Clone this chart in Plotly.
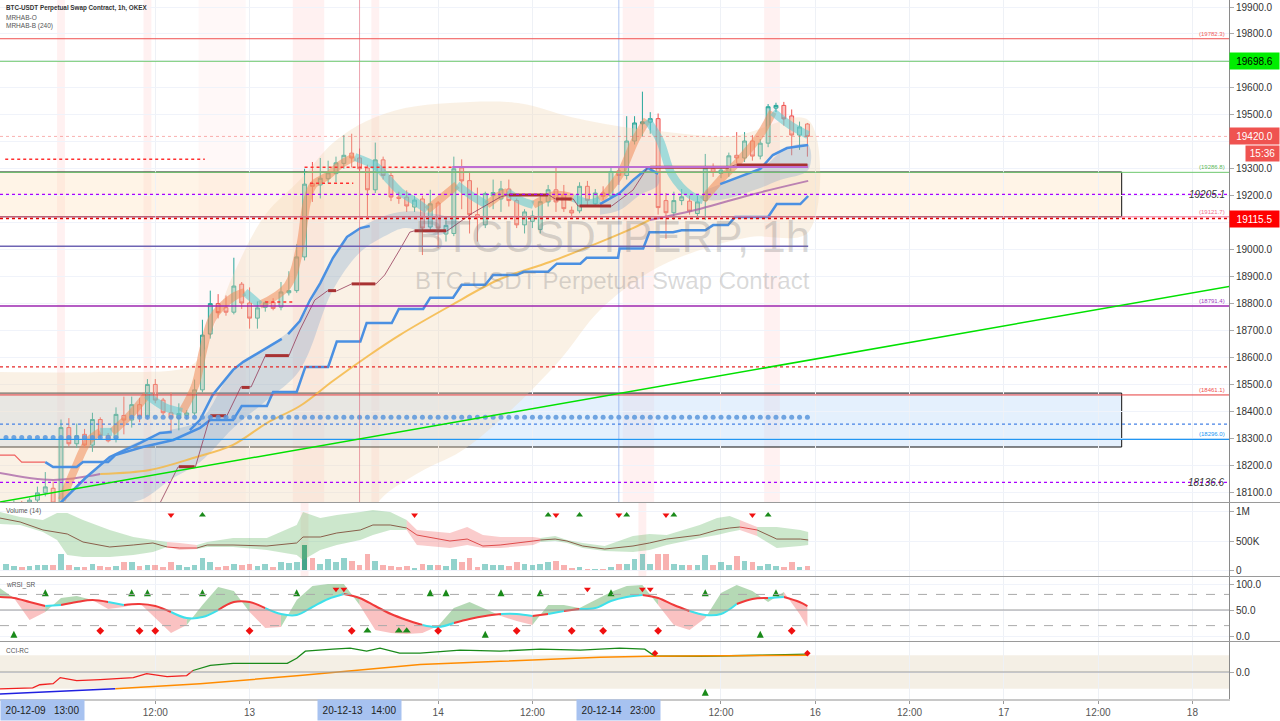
import plotly.graph_objects as go
from datetime import datetime, timedelta

BASE = datetime(2020, 12, 12)


def T(hs):
    return [None if h is None else BASE + timedelta(hours=h) for h in hs]

# ---------------- candles (hours from 2020-12-12 00:00) ----------------
hours = list(range(-7, 96))
opens = [18020, 18045, 18060, 18040, 18071, 18098, 18115,
         18060, 18340, 18280, 18315, 18275, 18370, 18311, 18300, 18385, 18368,
         18425, 18382, 18500, 18442, 18395, 18375, 18385, 18394, 18480, 18687,
         18800, 18785, 18768, 18872, 18802, 18746, 18786, 18805, 18787, 18840,
         18848, 18973, 19245, 19240, 19263, 19282, 19320, 19358, 19340, 19303,
         19222, 19333, 19275, 19195, 19195, 19158, 19188, 19084, 19173, 19058,
         19060, 19303, 19256, 19130, 19092, 19200, 19188, 19225, 19182, 19092,
         19105, 19075, 19177, 19222, 19205, 19146, 19144, 19235, 19170, 19210,
         19199, 19292, 19275, 19403, 19467, 19473, 19486, 19182, 19137, 19182,
         19180, 19134, 19182, 19300, 19283, 19288, 19350, 19340, 19403, 19347,
         19395, 19525, 19535, 19496, 19425, 19466]
highs = [18060, 18070, 18068, 18080, 18121, 18175, 18140,
         18370, 18375, 18355, 18335, 18395, 18378, 18320, 18415, 18455, 18455,
         18450, 18520, 18520, 18450, 18470, 18430, 18405, 18518, 18740, 18848,
         18835, 18830, 18970, 18880, 18860, 18808, 18810, 18820, 18880, 18920,
         19020, 19300, 19325, 19340, 19330, 19345, 19425, 19430, 19375, 19315,
         19397, 19345, 19290, 19215, 19220, 19200, 19200, 19222, 19180, 19125,
         19345, 19335, 19285, 19230, 19215, 19260, 19255, 19260, 19190, 19150,
         19145, 19210, 19240, 19303, 19240, 19160, 19250, 19255, 19225, 19235,
         19305, 19305, 19495, 19495, 19586, 19510, 19505, 19210, 19215, 19225,
         19200, 19200, 19355, 19320, 19310, 19360, 19436, 19436, 19425, 19410,
         19540, 19545, 19548, 19520, 19475, 19470]
lows = [18000, 18030, 18025, 18030, 18060, 18085, 18040,
        18050, 18270, 18265, 18265, 18250, 18300, 18285, 18285, 18315, 18340,
        18360, 18370, 18430, 18385, 18325, 18330, 18370, 18385, 18470, 18670,
        18745, 18755, 18760, 18780, 18707, 18707, 18770, 18775, 18775, 18830,
        18840, 18960, 19177, 19190, 19245, 19250, 19300, 19305, 19285, 19117,
        19210, 19260, 19180, 19170, 19140, 19140, 18980, 19070, 19005, 19030,
        19050, 19150, 19060, 19030, 19080, 19150, 19140, 19160, 19080, 19060,
        19080, 19060, 19160, 19140, 19140, 19120, 19135, 19160, 19160, 19185,
        19190, 19240, 19260, 19390, 19420, 19430, 19130, 19040, 19110, 19165,
        19130, 19115, 19110, 19270, 19265, 19270, 19320, 19325, 19330, 19335,
        19380, 19510, 19460, 19350, 19370, 19345]
closes = [18045, 18060, 18040, 18071, 18098, 18120, 18060,
          18340, 18280, 18310, 18275, 18370, 18310, 18291, 18389, 18368, 18425,
          18382, 18500, 18442, 18395, 18378, 18392, 18394, 18480, 18683, 18800,
          18766, 18768, 18865, 18802, 18746, 18784, 18803, 18782, 18843, 18848,
          18973, 19243, 19235, 19265, 19285, 19322, 19350, 19340, 19300, 19222,
          19333, 19275, 19195, 19190, 19162, 19184, 19080, 19170, 19080, 19090,
          19300, 19255, 19130, 19120, 19208, 19212, 19225, 19182, 19092, 19140,
          19125, 19178, 19222, 19177, 19152, 19136, 19235, 19183, 19210, 19198,
          19290, 19275, 19403, 19470, 19474, 19486, 19156, 19137, 19182, 19196,
          19143, 19177, 19303, 19287, 19295, 19348, 19340, 19403, 19347, 19395,
          19530, 19535, 19485, 19425, 19455, 19420]
volume_k = [109, 73, 60, 73, 79, 79, 79, 284, 91, 60,
            60, 109, 73, 48, 73, 133, 133, 73, 91, 91,
            48, 133, 79, 60, 79, 212, 133, 60, 73, 109,
            79, 109, 73, 109, 48, 133, 121, 133, 424, 200,
            109, 182, 133, 200, 163, 91, 272, 163, 91, 73,
            48, 73, 30, 109, 79, 91, 73, 182, 133, 200,
            60, 109, 79, 91, 73, 133, 109, 91, 109, 133,
            163, 91, 30, 60, 18, 18, 18, 48, 109, 109,
            182, 272, 109, 284, 272, 109, 79, 79, 91, 254,
            91, 133, 79, 242, 151, 133, 73, 109, 73, 48,
            133, 60, 73]

# ---------------- overlay indicators (main pane) ----------------
bb_up_h = [-8.0, 5.0, 15.8, 17.7, 21.9, 26.0, 30.4, 34.6, 38.9, 43.8, 49.5, 56.8, 60.1, 64.4, 70.8, 74.9, 85.5, 95.1]
bb_up_p = [18546, 18546, 18561, 18602, 18906, 19129, 19258, 19396, 19477, 19525, 19544, 19548, 19533, 19496, 19459, 19444, 19422, 19481]
bb_lo_h = [-8.0, 38.1, 40.6, 45.7, 50.8, 55.9, 63.5, 68.6, 74.9, 81.3, 87.7, 95.1]
bb_lo_p = [17849, 17923, 18071, 18175, 18250, 18368, 18591, 18776, 18917, 18999, 19047, 19065]

band1_up_h = [-0.1, 6.2, 12.6, 17.7, 21.9, 25.7, 30.4, 34.6, 38.1, 43.1, 48.2, 50.8]
band1_up_p = [18060, 18231, 18320, 18368, 18554, 18628, 18735, 18969, 19080, 19140, 19129, 19103]
band1_lo_h = [6.2, 10.1, 13.9, 17.7, 21.9, 26.2, 30.4, 34.6, 38.1, 41.5, 43.8, 48.2, 50.8]
band1_lo_p = [18060, 18071, 18146, 18212, 18338, 18442, 18554, 18850, 18991, 19054, 19080, 19054, 19103]
band2_up_h = [68.6, 71.1, 74.7, 76.0]
band2_up_p = [19169, 19210, 19303, 19281]
band2_lo_h = [68.6, 71.1, 73.7, 76.0]
band2_lo_p = [19129, 19147, 19203, 19240]
band3_up_h = [82.0, 83.9, 89.0, 92.4, 95.1]
band3_up_p = [19221, 19243, 19299, 19377, 19388]
band3_lo_h = [82.0, 83.9, 89.0, 91.5, 95.1]
band3_lo_p = [19184, 19184, 19229, 19258, 19295]

blue_h = [-0.1, 3.1, 6.2, 10.1, 12.6, 14.1, None, 16.4, 17.7, 19.3, 21.9, 23.2, 25.7, 28.1, None,
          28.9, 30.4, 31.7, 33.0, 34.6, 36.4, 38.1, 39.3, None, 68.6, 71.1, 72.8, 74.7, 76.0, None,
          83.9, 89.0, 90.6, 92.4, 95.1]
blue_p = [18060, 18153, 18231, 18283, 18320, 18324, None, 18331, 18369, 18461, 18554, 18584, 18628, 18669, None,
          18687, 18735, 18813, 18876, 18969, 19047, 19080, 19088, None, 19169, 19210, 19258, 19303, 19281, None,
          19243, 19299, 19351, 19377, 19388]

ma_h = [-7.8, -1.0, 5.0, 11.3, 16.8, 21.9, 26.2, 30.4, 34.6, 38.9, 43.1, 49.5, 55.9, 62.2, 68.6, 72.8, 74.9, 81.3, 87.7, 95.1]
ma_p = [18172, 18146, 18168, 18183, 18227, 18276, 18357, 18420, 18513, 18602, 18683, 18791, 18891, 18954, 19028, 19080, 19110, 19151, 19203, 19255]

rib_or_h = [0.1, 1.8, 3.4, 5.0, None, 6.5, 8.8, 10.9, None, 15.4, 17.1, 18.1, 19.3, 21.9, 23.4, None,
            25.3, 28.8, 30.4, 31.3, 32.1, 33.9, 35.5, 37.4, None, 46.6, 48.9, 50.4, None, 54.2, 55.9, 56.8, None,
            60.1, 62.9, 65.2, None, 68.6, 71.1, 73.1, 74.6, None, 81.7, 83.9, 86.4, 88.96, 90.6]
rib_or_p = [18071, 18190, 18287, 18324, None, 18324, 18387, 18461, None, 18398, 18498, 18628, 18747, 18824, 18843, None,
            18795, 18865, 19006, 19177, 19240, 19273, 19314, 19344, None, 19147, 19203, 19240, None, 19166, 19203, 19214, None,
            19166, 19203, 19192, None, 19184, 19277, 19407, 19481, None, 19184, 19258, 19333, 19425, 19511]
rib_cy_h = [5.0, 6.5, None, 10.9, 13.2, 15.4, None, 23.4, 25.3, None, 37.4, 40.2, 41.5, 43.2, 44.8, 46.6, None,
            50.4, 52.1, 54.2, None, 56.8, 58.4, 60.1, None, 65.2, 67.3, 68.6, None, 74.6, 76.2, 77.8, 80.1, 81.7, None,
            90.6, 92.8, 95.1]
rib_cy_p = [18324, 18324, None, 18461, 18416, 18398, None, 18843, 18795, None, 19344, 19307, 19266, 19214, 19184, 19147, None,
            19240, 19203, 19166, None, 19214, 19184, 19166, None, 19192, 19173, 19184, None, 19481, 19407, 19277, 19203, 19184, None,
            19511, 19462, 19425]

step_red_h = [-7.8, -5.9, -5.0, -2.0]
step_red_p = [18238, 18238, 18212, 18212]
step_h = [-2.0, -1.0, 2.0, 2.8, 6.0, 6.9, 10.4, 14.3, 17.7, 19.0, 21.9, 23.0, 26.2, 27.0, 30.0, 31.1, 34.0, 35.1, 38.1, 38.9,
          42.1, 43.0, 46.1, 47.0, 49.9, 51.0, 54.0, 55.0, 58.0, 58.9, 62.0, 63.1, 66.1, 66.9, 70.9, 71.1, 74.1, 74.9, 77.9, 79.0,
          82.0, 83.0, 84.9, 85.8, 90.0, 91.1, 94.1, 95.1]
step_p = [18212, 18194, 18194, 18212, 18212, 18238, 18268, 18294, 18339, 18368, 18368, 18420, 18420, 18472, 18472, 18565, 18565, 18659, 18659, 18728,
          18728, 18780, 18780, 18822, 18822, 18870, 18870, 18906, 18906, 18918, 18918, 18948, 18948, 18970, 18970, 19004, 19004, 19065, 19065, 19072,
          19072, 19091, 19091, 19121, 19121, 19169, 19169, 19199]

conn_h = [12.6, 14.9, 17.1, 19.0, 21.1, 22.9, 24.2, 26.0, 29.0, 30.4, 32.3, 33.9, 35.1, 37.0, 40.1, 41.2, 43.1, 44.4, 44.9, 49.1,
          52.4, 54.2, 55.9, 56.8, 62.1, 62.9, 65.2, 65.8, 70.1, 72.8, 74.7, 85.1, 85.8, 95.1]
conn_p = [18060, 18194, 18194, 18383, 18383, 18491, 18491, 18606, 18606, 18702, 18813, 18847, 18847, 18873, 18873, 18906, 18999, 19065, 19069, 19069,
          19136, 19166, 19195, 19203, 19203, 19188, 19188, 19162, 19162, 19221, 19307, 19307, 19314, 19314]
mrb_h = [15, 17, None, 19, 21, None, 23, 24, None, 26, 29, None, 34, 35, None, 37, 40, None, 45, 49, None,
         57, 62, None, 63, 65, None, 66, 70, None, 75, 85, None, 86, 95]
mrb_p = [18195, 18195, None, 18384, 18384, None, 18489, 18489, None, 18607, 18607, None, 18848, 18848, None, 18873, 18873, None,
         19070, 19070, None, 19203, 19203, None, 19188, 19188, None, 19162, 19162, None, 19306, 19306, None, 19314, 19314]
mro_h = [-7.1, 18.3, None, 26.0, 29.8, None, 31.0, 50.8, None, 31.7, 37.2]
mro_p = [19335, 19335, None, 18806, 18806, None, 19306, 19306, None, 19246, 19246]

dots1_h = list(range(-7, 8))
dots1_level = 18303
dots2_h = list(range(9, 96))
dots2_level = 18378

# levels
full_levels = [19782.3, 19698.6, 19420.0, 19286.8, 19205.1, 19121.7, 19115.5, 18791.4, 18565.0, 18461.1, 18353.0, 18296.0, 18136.6]
slate_level, slate_h = 19013, (-8, 95.1)
violet_level, violet_h = 19307, (49.8, 95.1)
box_top = (19288, 19122)
box_bot = (18468, 18268)
box_h = (-10, 135)
trend_h = (-8, 149)
trend_p = (18063, 18865)
pink_bands = [(-0.5, 0.5), (10.5, 11.5), (29.5, 33.5), (39.5, 40.5), (71.5, 75.5), (89.5, 91.5)]
pink_light = [(17.5, 23.5)]
vol_pink = [(30.5, 31.5), (73.5, 74.5)]
vlines_h = [38, 71]

# ---------------- volume ribbon ----------------
vb_h = [-7.8, -5.2, -2.3, -0.5, 0.8, 2.8, 6.2, 9.2, 11.7, 13.5, 15.1, 17.3, 18.6, 21.9, 26.2, 30.0, 30.8, 33.0, 35.1, 38.1,
        39.7, 41.9, 44.0, 45.3, 49.5, 51.7, 53.7, 55.9, 60.1, 61.0, 62.9, 64.4, 66.4, 69.2, 72.8, 74.9, 77.1, 81.3, 83.5, 85.1,
        86.4, 88.6, 91.1, 94.1, 95.1]
vb_line = [896, 828, 690, 655, 621, 483, 397, 431, 466, 397, 379, 379, 431, 431, 414, 466, 569, 569, 638, 690,
           776, 776, 724, 603, 500, 534, 414, 431, 500, 517, 534, 500, 414, 362, 414, 466, 534, 603, 690, 724,
           741, 690, 534, 534, 517]
vb_up = [1000, 914, 862, 983, 983, 862, 690, 569, 517, 483, 466, 431, 483, 552, 552, 776, 1000, 896, 948, 1000,
         1034, 1000, 862, 690, 638, 741, 603, 569, 569, 552, 586, 517, 466, 414, 586, 621, 603, 776, 896, 931,
         862, 741, 741, 690, 655]
vb_lo = [793, 776, 655, 517, 259, 224, 224, 259, 310, 397, 345, 362, 397, 397, 345, 259, 172, 345, 431, 517,
         603, 690, 690, 431, 379, 431, 379, 379, 431, 483, 500, 466, 379, 328, 310, 345, 431, 552, 603, 655,
         690, 586, 379, 414, 431]
vb_keys = "ggggggggg" + "rr" + "ggggggggggg" + "rrrrrrr" + "ggggggggggg" + "r" + "ggg"
vol_dn_h = [14, 45, 63, 71, 77, 88]
vol_up_h = [18, 62, 66, 72, 78, 90]
vol_mark_level = 950e3

# ---------------- RSI ----------------
rsi_h = [-8, -6, -4, -2, 0, 2, 4, 6, 8, 10, 12, 14, 16, 18, 20, 22, 24, 26, 28, 30, 32, 34, 36, 38, 40, 42, 44, 46,
         48, 50, 52, 54, 56, 58, 60, 62, 64, 66, 68, 70, 72, 74, 76, 78, 80, 82, 84, 86, 88, 90, 92, 94, 95]
rsi_fast = [94.2, 73.1, 30.8, 46.2, 73.1, 76.9, 69.2, 51.9, 55.8, 63.5, 34.6, 5.8, 21.2, 59.6, 94.2, 86.5, 46.2, 15.4,
            17.3, 69.2, 96.2, 100, 100, 59.6, 11.5, 5.8, 3.8, 5.8, 19.2, 53.8, 65.4, 51.9, 38.5, 28.8, 21.2, 59.6, 59.6,
            53.8, 69.2, 84.6, 96.2, 98.1, 59.6, 21.2, 11.5, 34.6, 82.7, 98.1, 86.5, 65.4, 84.6, 42.3, 17.3]
rsi_slow = [75.0, 73.1, 65.4, 57.7, 59.6, 65.4, 69.2, 65.4, 59.6, 61.5, 57.7, 46.2, 34.6, 36.5, 50.0, 65.4, 65.4, 53.8,
            42.3, 40.4, 55.8, 71.2, 80.8, 73.1, 57.7, 42.3, 30.8, 21.2, 17.3, 25.0, 32.7, 38.5, 42.3, 42.3, 38.5, 42.3,
            48.1, 51.9, 53.8, 67.3, 75.0, 78.8, 73.1, 59.6, 48.1, 40.4, 42.3, 61.5, 71.2, 73.1, 75.0, 65.4, 57.7]
rsi_keys = "rrr" + "c" + "rrr" + "c" + "rrr" + "ccc" + "rrr" + "ccccc" + "rrrrr" + "cc" + "rrr" + "cc" + "r" + "c" + "r" + "cccc" + "rrr" + "ccc" + "rr" + "c" + "rr"
rsi_up_top_h = [-2, 9, 11, 18, 30, 47, 49, 56, 61, 70, 82, 91]
rsi_dn_top_h = [35, 36, 67, 74, 75]
rsi_up_bot_h = [-6, 54, 89]
rsi_tri_bot_h = [39, 43, 44]
rsi_dn_bot_h = [5, 10, 12, 24, 37, 48, 58, 65, 69, 76, 93]

# ---------------- CCI ----------------
cci_fast_h = [-7.8, -3.6, -2.7, -1.0, -0.1, 2.0, 5.0, 9.2, 10.9, 13.5, 16.0, 16.8, 19.0, 21.9, 26.2, 28.8, 30.0, 31.1,
              34.6, 36.8, 38.9, 40.6, 43.1, 45.7, 50.8, 55.9, 61.0, 66.1, 71.1, 74.3, 75.6, 81.3, 89.0, 95.1]
cci_fast = [-100, -93.9, -75.8, -69.7, -33.3, -51.5, -45.5, -33.3, -9.1, -27.3, -21.2, 9.1, 39.4, 51.5, 51.5, 51.5, 81.8,
            124.2, 136.4, 142.4, 124.2, 142.4, 112.1, 112.1, 130.3, 124.2, 136.4, 130.3, 142.4, 136.4, 93.9, 93.9, 100, 106.1]
cci_slow_h = [-7.8, 6.9, 17.7, 30.4, 45.7, 55.9, 68.6, 74.9, 95.1]
cci_slow = [-130.3, -100, -69.7, -21.2, 45.5, 63.6, 87.9, 93.9, 100]
cci_dn_h, cci_dn_v = [75.6, 95], [112, 112]
cci_up_h, cci_up_v = [82], [-100]

xtick_hours = [12, 24, 48, 60, 84, 96, 108, 120, 132, 144]
xtick_text = ["12:00", "13", "14", "12:00", "12:00", "16", "12:00", "17", "12:00", "18"]
main_ticks = list(range(18100, 19901, 100))
covered_ticks = [19100, 19400, 19700]   # hidden behind the price flags

# ======================================================================
FONT = "Liberation Sans"
UP, DN = "#26a69a", "#ef5350"
PH = 699.0


def py(ypx):
    return (PH - ypx) / PH


def runs(hs, vals, keys, want):
    xs, ys = [], []
    n = len(hs) - 1
    i = 0
    while i < n:
        if keys[i] == want:
            j = i
            while j < n and keys[j] == want:
                j += 1
            xs += list(hs[i:j + 1]) + [None]
            ys += list(vals[i:j + 1]) + [None]
            i = j
        else:
            i += 1
    return xs, ys


def quads(hs, a, b, keys, want):
    xs, ys = [], []
    for i in range(len(hs) - 1):
        if keys[i] == want:
            xs += [hs[i], hs[i + 1], hs[i + 1], hs[i], hs[i], None]
            ys += [a[i], a[i + 1], b[i + 1], b[i], a[i], None]
    return xs, ys


fig = go.Figure()


def line(h, p, color, width, yax="y", xax="x", dash="solid", shape="linear", mode="lines", **kw):
    fig.add_trace(go.Scatter(x=T(h), y=p, mode=mode, xaxis=xax, yaxis=yax, hoverinfo="skip",
                             line=dict(color=color, width=width, dash=dash, shape=shape), showlegend=False, **kw))


def poly(uh, up, lh, lp, color, yax="y", shape="linear"):
    fig.add_trace(go.Scatter(x=T(list(uh) + list(lh)[::-1]), y=list(up) + list(lp)[::-1], mode="lines",
                             fill="toself", fillcolor=color, line=dict(width=0, shape=shape),
                             yaxis=yax, hoverinfo="skip", showlegend=False))


# main pane layers
poly(bb_up_h, bb_up_p, bb_lo_h, bb_lo_p, "rgba(240,212,175,0.33)", shape="spline")
poly(band1_up_h, band1_up_p, band1_lo_h, band1_lo_p, "rgba(70,130,200,0.22)", shape="spline")
poly(band2_up_h, band2_up_p, band2_lo_h, band2_lo_p, "rgba(70,130,200,0.22)", shape="spline")
poly(band3_up_h, band3_up_p, band3_lo_h, band3_lo_p, "rgba(70,130,200,0.22)", shape="spline")

ma_keys = "mm" + "y" * 14 + "mmm"
for k, c in (("m", "rgba(165,95,165,0.75)"), ("y", "rgba(245,185,70,0.85)")):
    xs, ys = runs(ma_h, ma_p, ma_keys, k)
    line(xs, ys, c, 2, shape="spline")

line(rib_or_h, rib_or_p, "rgba(240,140,90,0.55)", 8, shape="spline")
line(rib_cy_h, rib_cy_p, "rgba(90,200,210,0.55)", 8, shape="spline")
line(blue_h, blue_p, "#4a90e2", 2.5)
line(step_red_h, step_red_p, "#f06060", 1.2)
line(step_h, step_p, "#4a90e2", 2.5)
line(conn_h, conn_p, "rgba(150,60,90,0.8)", 1)
line(mrb_h, mrb_p, "#a83232", 3)
line(mro_h, mro_p, "#ff3030", 1.5, dash="dot")
fig.add_trace(go.Scatter(x=T(dots1_h), y=[dots1_level] * len(dots1_h), mode="markers", hoverinfo="skip",
                         marker=dict(size=5, color="rgba(90,150,220,0.85)"), showlegend=False))
fig.add_trace(go.Scatter(x=T(dots2_h), y=[dots2_level] * len(dots2_h), mode="markers", hoverinfo="skip",
                         marker=dict(size=5, color="rgba(90,150,220,0.85)"), showlegend=False))

fig.add_trace(go.Candlestick(
    x=T(hours), open=opens, high=highs, low=lows, close=closes, xaxis="x", yaxis="y",
    increasing=dict(line=dict(color=UP, width=1), fillcolor="rgba(38,166,154,0.35)"),
    decreasing=dict(line=dict(color=DN, width=1), fillcolor="rgba(239,83,80,0.35)"),
    whiskerwidth=0, hoverinfo="skip", showlegend=False))

# volume pane
vcols = []
for i, (o, c) in enumerate(zip(opens, closes)):
    col = "rgba(38,166,154,0.5)" if c >= o else "rgba(239,83,80,0.45)"
    if hours[i] == 31:
        col = "rgba(38,150,120,0.85)"
    vcols.append(col)
fig.add_trace(go.Bar(x=T(hours), y=[v * 1000 for v in volume_k], marker=dict(color=vcols, line=dict(width=0)),
                     width=0.72 * 3600 * 1000, xaxis="x2", yaxis="y2", hoverinfo="skip", showlegend=False))
vb_up_v = [v * 1000 for v in vb_up]
vb_lo_v = [v * 1000 for v in vb_lo]
for k, c in (("g", "rgba(110,185,110,0.35)"), ("r", "rgba(240,110,110,0.35)")):
    xs, ys = quads(vb_h, vb_up_v, vb_lo_v, vb_keys, k)
    fig.add_trace(go.Scatter(x=T(xs), y=ys, mode="lines", fill="toself", fillcolor=c, line=dict(width=0),
                             xaxis="x2", yaxis="y2", hoverinfo="skip", showlegend=False))
for k, c in (("g", "rgba(130,80,60,0.9)"), ("r", "rgba(220,60,60,0.9)")):
    xs, ys = runs(vb_h, [v * 1000 for v in vb_line], vb_keys, k)
    line(xs, ys, c, 1, yax="y2", xax="x2")
fig.add_trace(go.Scatter(x=T(vol_dn_h), y=[vol_mark_level] * len(vol_dn_h), mode="markers", xaxis="x2", yaxis="y2",
                         marker=dict(symbol="triangle-down", size=6, color="#f01010"), hoverinfo="skip", showlegend=False))
fig.add_trace(go.Scatter(x=T(vol_up_h), y=[vol_mark_level] * len(vol_up_h), mode="markers", xaxis="x2", yaxis="y2",
                         marker=dict(symbol="triangle-up", size=6, color="#1a8a1a"), hoverinfo="skip", showlegend=False))

# RSI pane
rsi_fill_keys = "".join("g" if rsi_fast[i] + rsi_fast[i + 1] >= rsi_slow[i] + rsi_slow[i + 1] else "p"
                        for i in range(len(rsi_h) - 1))
for k, c in (("g", "rgba(90,170,90,0.45)"), ("p", "rgba(245,120,120,0.45)")):
    xs, ys = quads(rsi_h, rsi_fast, rsi_slow, rsi_fill_keys, k)
    fig.add_trace(go.Scatter(x=T(xs), y=ys, mode="lines", fill="toself", fillcolor=c, line=dict(width=0),
                             xaxis="x3", yaxis="y3", hoverinfo="skip", showlegend=False))
for k, c in (("r", "#f03a3a"), ("c", "#3ee0ea")):
    xs, ys = runs(rsi_h, rsi_slow, rsi_keys, k)
    line(xs, ys, c, 2, yax="y3", xax="x3", shape="spline")


def marks(hs, v, sym, color, size, yax, xax):
    fig.add_trace(go.Scatter(x=T(hs), y=[v] * len(hs), mode="markers", xaxis=xax, yaxis=yax, hoverinfo="skip",
                             marker=dict(symbol=sym, size=size, color=color, line=dict(width=0)), showlegend=False))


marks(rsi_up_top_h, 90, "arrow-up", "#1a8a1a", 7, "y3", "x3")
marks(rsi_dn_top_h, 90, "triangle-down", "#f01010", 6, "y3", "x3")
marks(rsi_up_bot_h, 10, "arrow-up", "#1a8a1a", 7, "y3", "x3")
marks(rsi_tri_bot_h, 10, "triangle-up", "#1a8a1a", 7, "y3", "x3")
marks(rsi_dn_bot_h, 10, "diamond", "#f01010", 6, "y3", "x3")

# CCI pane
cci_keys = "r" * 11 + "g" * (len(cci_fast_h) - 12)
for k, c in (("r", "#f02020"), ("g", "#1a8a1a")):
    xs, ys = runs(cci_fast_h, cci_fast, cci_keys, k)
    line(xs, ys, c, 1.3, yax="y4", xax="x4")
cci_s_keys = "b" + "o" * (len(cci_slow_h) - 2)
for k, c in (("b", "#2020e0"), ("o", "#ff8c00")):
    xs, ys = runs(cci_slow_h, cci_slow, cci_s_keys, k)
    line(xs, ys, c, 1.5, yax="y4", xax="x4")
fig.add_trace(go.Scatter(x=T(cci_dn_h), y=cci_dn_v, mode="markers", xaxis="x4", yaxis="y4", hoverinfo="skip",
                         marker=dict(symbol="diamond", size=5, color="#f01010"), showlegend=False))
fig.add_trace(go.Scatter(x=T(cci_up_h), y=cci_up_v, mode="markers", xaxis="x4", yaxis="y4", hoverinfo="skip",
                         marker=dict(symbol="arrow-up", size=7, color="#1a8a1a"), showlegend=False))

# ---------------- shapes ----------------
shapes = []
for a, b in pink_bands:
    shapes.append(dict(type="rect", xref="x", yref="y domain", x0=T([a])[0], x1=T([b])[0], y0=0, y1=1,
                       fillcolor="rgba(255,120,120,0.10)", line=dict(width=0), layer="below"))
for a, b in pink_light:
    shapes.append(dict(type="rect", xref="x", yref="y domain", x0=T([a])[0], x1=T([b])[0], y0=0, y1=1,
                       fillcolor="rgba(255,120,120,0.05)", line=dict(width=0), layer="below"))
for a, b in vol_pink:
    shapes.append(dict(type="rect", xref="x2", yref="y2 domain", x0=T([a])[0], x1=T([b])[0], y0=0, y1=1,
                       fillcolor="rgba(255,120,120,0.12)", line=dict(width=0), layer="below"))
shapes.append(dict(type="rect", xref="x", yref="y", x0=T([box_h[0]])[0], x1=T([box_h[1]])[0], y0=box_top[1], y1=box_top[0],
                   fillcolor="rgba(255,215,170,0.28)", line=dict(color="#111", width=1), layer="below"))
shapes.append(dict(type="rect", xref="x", yref="y", x0=T([box_h[0]])[0], x1=T([box_h[1]])[0], y0=box_bot[1], y1=box_bot[0],
                   fillcolor="rgba(195,222,250,0.45)", line=dict(color="#111", width=1), layer="below"))
vcolors = ["rgba(220,90,110,0.55)", "rgba(110,150,235,0.55)"]
for h, c in zip(vlines_h, vcolors):
    shapes.append(dict(type="line", xref="x", yref="y domain", x0=T([h])[0], x1=T([h])[0], y0=0, y1=1,
                       line=dict(color=c, width=1)))
lvl_styles = [("rgb(240,80,80)", 1, "solid"), ("rgb(110,200,110)", 1, "solid"), ("rgba(239,83,80,0.45)", 1, "dot"),
              ("rgb(110,200,110)", 1, "solid"), ("rgb(170,0,255)", 1.2, "dot"), ("rgb(240,110,150)", 1, "solid"),
              ("rgb(230,0,0)", 1.3, "dot"), ("rgb(156,39,176)", 1.5, "solid"), ("rgb(230,40,40)", 1.2, "dot"),
              ("rgb(230,60,60)", 1, "solid"), ("rgb(70,130,230)", 1.2, "dot"), ("rgb(33,150,243)", 1.3, "solid"),
              ("rgb(170,0,255)", 1.2, "dot")]
for p, (c, w, d) in zip(full_levels, lvl_styles):
    shapes.append(dict(type="line", xref="x domain", yref="y", x0=0, x1=1, y0=p, y1=p, line=dict(color=c, width=w, dash=d)))
shapes.append(dict(type="line", xref="x", yref="y", x0=T([slate_h[0]])[0], x1=T([slate_h[1]])[0], y0=slate_level, y1=slate_level,
                   line=dict(color="rgb(110,100,180)", width=1.5)))
shapes.append(dict(type="line", xref="x", yref="y", x0=T([violet_h[0]])[0], x1=T([violet_h[1]])[0], y0=violet_level, y1=violet_level,
                   line=dict(color="rgb(190,110,210)", width=2)))
shapes.append(dict(type="line", xref="x", yref="y", x0=T([trend_h[0]])[0], x1=T([trend_h[1]])[0], y0=trend_p[0], y1=trend_p[1],
                   line=dict(color="rgb(0,225,0)", width=1.5)))
# RSI guides
for v, d, c in ((80, "dash", "#aaaaaa"), (20, "dash", "#aaaaaa"), (50, "solid", "#9a9a9a")):
    shapes.append(dict(type="line", xref="x domain", yref="y3", x0=0, x1=1, y0=v, y1=v, line=dict(color=c, width=1, dash=d)))
# CCI band + zero
shapes.append(dict(type="rect", xref="x domain", yref="y4", x0=0, x1=1, y0=-100, y1=100,
                   fillcolor="rgba(215,195,160,0.27)", line=dict(width=0), layer="below"))
shapes.append(dict(type="line", xref="x domain", yref="y4", x0=0, x1=1, y0=0, y1=0, line=dict(color="#9a9a9a", width=1)))
# pane separators
for ypx in (502.5, 576.5, 641.5):
    shapes.append(dict(type="line", xref="paper", yref="paper", x0=0, x1=1.0415, y0=py(ypx), y1=py(ypx),
                       line=dict(color="#9a9a9a", width=1)))

# ---------------- annotations ----------------
ann = []


def txt(text, x, y, xref="paper", yref="paper", size=10, color="#333", **kw):
    d = dict(text=text, x=x, y=y, xref=xref, yref=yref, showarrow=False, font=dict(family=FONT, size=size, color=color))
    d.update(kw)
    ann.append(d)


txt("<b>BTC-USDT Perpetual Swap Contract, 1h, OKEX</b>", 0.003, py(8), size=6.3, color="#333", xanchor="left", yanchor="middle")
txt("MRHAB-O", 0.003, py(17), size=6.5, color="#555", xanchor="left", yanchor="middle")
txt("MRHAB-B (240)", 0.003, py(26), size=6.5, color="#555", xanchor="left", yanchor="middle")
txt("Volume (14)", 0.003, py(511), size=6.5, color="#555", xanchor="left", yanchor="middle")
txt("wRSI_SR", 0.003, py(585), size=6.5, color="#555", xanchor="left", yanchor="middle")
txt("CCI-RC", 0.003, py(650), size=6.5, color="#555", xanchor="left", yanchor="middle")

txt("BTCUSDTPERP, 1h", 812 / 1229, py(236), size=44, color="rgba(120,120,120,0.28)", xanchor="right", yanchor="middle")
txt("BTC-USDT Perpetual Swap Contract", 812 / 1229, py(280), size=24, color="rgba(120,120,120,0.28)", xanchor="right", yanchor="middle")

small_lbls = [("(19782.3)", 19782.3, "#f06060"), ("(19286.8)", 19286.8, "#5cb85c"), ("(19121.7)", 19121.7, "#f07090"),
              ("(18791.4)", 18791.4, "#a040c0"), ("(18461.1)", 18461.1, "#f05050"), ("(18296.0)", 18296.0, "#2196f3")]
for t_, p, c in small_lbls:
    txt(t_, 0.9985, p, yref="y", size=6, color=c, xanchor="right", yanchor="bottom")
for p in (19205.1, 18136.6):
    txt("<i>%.1f</i>" % p, 0.998, p, yref="y", size=10, color="#333", xanchor="right", yanchor="middle")

flags = [("19698.6", 19698.6, "#00ee00", "#000"), ("19420.0", 19420.0, "#ef5350", "#fff"), ("19115.5", 19115.5, "#ff0000", "#fff")]
for t_, p, bg, fc in flags:
    txt(t_, 1.0, p, yref="y", size=10, color=fc, xanchor="left", yanchor="middle", bgcolor=bg, width=47, height=14,
        borderpad=1, align="center")
txt("15:36", 1.0, 19420.0, yref="y", size=10, color="#fff", xanchor="left", yanchor="middle", bgcolor="#ef5350",
    width=31, height=13, borderpad=1, xshift=16, yshift=-17, align="center")

for label, h in (("20-12-13\u00a0\u00a0\u00a014:00", 38), ("20-12-14\u00a0\u00a0\u00a023:00", 71)):
    txt(label, T([h])[0], py(710), xref="x4", size=10, color="#222", xanchor="center", yanchor="middle",
        bgcolor="#a7c2f0", width=81, height=18, borderpad=1)
txt("20-12-09\u00a0\u00a0\u00a013:00", 0, py(710), size=10, color="#222", xanchor="left", yanchor="middle",
    bgcolor="#a7c2f0", width=81, height=18, borderpad=1)

# ---------------- layout ----------------
xcommon = dict(type="date", range=T([-7.764, 148.66]), showgrid=True, gridcolor="#eef1f6", gridwidth=1,
               tickvals=T(xtick_hours), ticktext=xtick_text, zeroline=False, fixedrange=True)
ycommon = dict(side="right", ticks="outside", ticklen=4, tickcolor="#aaaaaa", showline=True, linecolor="#8a8a8a",
               linewidth=1, showgrid=True, gridcolor="#f0f3fa", zeroline=False, fixedrange=True,
               tickfont=dict(family=FONT, size=10, color="#333"))

fig.update_layout(
    width=1280, height=721, margin=dict(l=0, r=51, t=0, b=22, autoexpand=False),
    paper_bgcolor="white", plot_bgcolor="white", showlegend=False,
    font=dict(family=FONT, size=10, color="#333"),
    xaxis=dict(**xcommon, anchor="y", showticklabels=False, rangeslider=dict(visible=False)),
    xaxis2=dict(**xcommon, anchor="y2", matches="x", showticklabels=False),
    xaxis3=dict(**xcommon, anchor="y3", matches="x", showticklabels=False),
    xaxis4=dict(**xcommon, anchor="y4", matches="x", showticklabels=True, ticks="outside", ticklen=3,
                tickcolor="#999", showline=True, linecolor="#c8c8c8", linewidth=2,
                tickfont=dict(family=FONT, size=10, color="#555")),
    yaxis=dict(**ycommon, anchor="x", domain=[py(502), 1.0], range=[18064, 19926],
               tickvals=main_ticks, ticktext=["" if v in covered_ticks else "%.1f" % v for v in main_ticks]),
    yaxis2=dict(**ycommon, anchor="x2", domain=[py(576), py(503)], range=[-103e3, 1155e3],
                tickvals=[0, 5e5, 1e6], ticktext=["0", "500K", "1M"]),
    yaxis3=dict(**ycommon, anchor="x3", domain=[py(641), py(577)], range=[-9.6, 113.5],
                tickvals=[0, 50, 100], ticktext=["0.0", "50.0", "100.0"]),
    yaxis4=dict(**ycommon, anchor="x4", domain=[0, py(642)], range=[-160.6, 178.8],
                tickvals=[0], ticktext=["0.0"]),
    shapes=shapes, annotations=ann, bargap=0,
)

fig.write_html("out.html", config={"displayModeBar": False},
               post_script="document.body.style.margin='0';document.body.style.overflow='hidden';")
